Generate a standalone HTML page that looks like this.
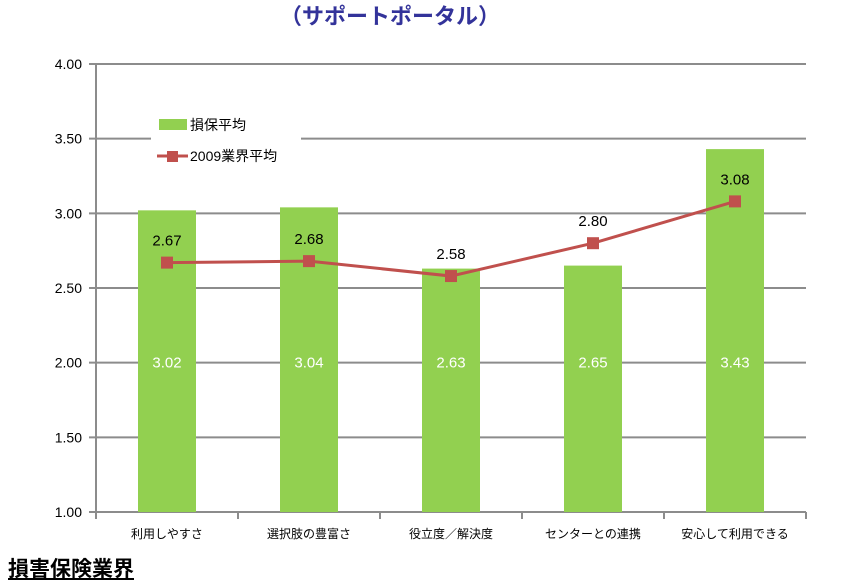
<!DOCTYPE html>
<html><head><meta charset="utf-8"><style>
body{margin:0;background:#fff;}
svg text{font-family:"Liberation Sans","Noto Sans CJK JP",sans-serif;}
</style></head><body>
<svg width="843" height="580" viewBox="0 0 843 580" xmlns="http://www.w3.org/2000/svg">
<text x="390" y="24" text-anchor="middle" font-size="22" font-weight="bold" fill="#33339a">（サポートポータル）</text>
<g id="grid"></g>
<g id="bars"></g>
<g id="line"></g>
<g id="legend"></g>
<text x="8" y="576" font-size="21" font-weight="bold" fill="#000" text-decoration="underline">損害保険業界</text>
</svg>
<script>
const categories=["利用しやすさ","選択肢の豊富さ","役立度／解決度","センターとの連携","安心して利用できる"];
const barValues=[3.02,3.04,2.63,2.65,3.43];
const lineValues=[2.67,2.68,2.58,2.80,3.08];
const yTicks=[1.00,1.50,2.00,2.50,3.00,3.50,4.00];
const NS="http://www.w3.org/2000/svg";
const L=96,R=806,T=64,B=512,ymin=1,ymax=4;
const y=v=>B-(v-ymin)/(ymax-ymin)*(B-T);
const bw=(R-L)/categories.length;
const x=i=>L+bw*(i+0.5);
function mk(t,a,p){const e=document.createElementNS(NS,t);for(const k in a)e.setAttribute(k,a[k]);p.appendChild(e);return e;}
const g=document.getElementById('grid');
yTicks.forEach(v=>{
 const l=mk('line',{x1:L-7,x2:R,y1:y(v),y2:y(v),stroke:'#8c8c8c','stroke-width':2},g);
 
 
 const t=mk('text',{x:L-14,y:y(v)+5,'text-anchor':'end','font-size':14,fill:'#000'},g);
 t.textContent=v.toFixed(2);
 
 
});
const ax=mk('line',{x1:L,x2:L,y1:T,y2:B+7,stroke:'#8c8c8c','stroke-width':2},g);


for(let i=0;i<=categories.length;i++){
 const tk=mk('line',{x1:L+bw*i,x2:L+bw*i,y1:B,y2:B+7,stroke:'#8c8c8c','stroke-width':2},g);
 
 
}
const bg=document.getElementById('bars');
categories.forEach((c,i)=>{
 const r=mk('rect',{x:x(i)-29,y:y(barValues[i]),width:58,height:B-y(barValues[i]),fill:'#92d050'},bg);
 
 
 const t=mk('text',{x:x(i),y:y(2.0)+5,'text-anchor':'middle','font-size':15,fill:'#fff'},bg);
 t.textContent=barValues[i].toFixed(2);
 
 
 const cl=mk('text',{x:x(i),y:538,'text-anchor':'middle','font-size':12,fill:'#000'},bg);
 cl.textContent=c;
 
 
});
const lg=document.getElementById('line');
const pl=mk('polyline',{points:lineValues.map((v,i)=>x(i)+','+y(v)).join(' '),fill:'none',stroke:'#c0504d','stroke-width':3},lg);


lineValues.forEach((v,i)=>{
 const m=mk('rect',{x:x(i)-6,y:y(v)-6,width:12,height:12,fill:'#c0504d'},lg);
 
 
 const t=mk('text',{x:x(i),y:y(v)-17,'text-anchor':'middle','font-size':15,fill:'#000'},lg);
 t.textContent=v.toFixed(2);
 
 
});
const le=document.getElementById('legend');
mk('rect',{x:151,y:105,width:150,height:70,fill:'#fff'},le);
const s1=mk('rect',{x:159,y:119,width:28,height:11,fill:'#92d050'},le);


const t1=mk('text',{x:190,y:130,'font-size':14,fill:'#000'},le);
t1.textContent='損保平均';


mk('line',{x1:157,x2:188,y1:156,y2:156,stroke:'#c0504d','stroke-width':3},le);
const s2=mk('rect',{x:167,y:151,width:11,height:11,fill:'#c0504d'},le);


const t2=mk('text',{x:190,y:161,'font-size':14,fill:'#000'},le);
t2.textContent='2009業界平均';


</script>
</body></html>
